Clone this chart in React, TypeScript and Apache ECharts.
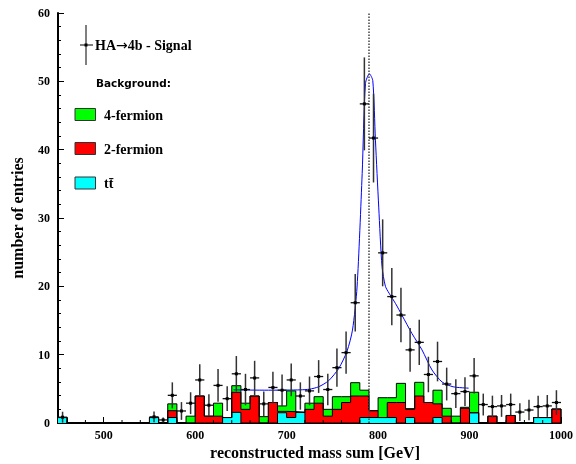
import React, { useEffect, useRef } from 'react';
import * as echarts from 'echarts';

// histogram bin edges (GeV)
const binEdges = [
  450, 460, 470, 480, 490, 500, 510, 520, 530, 540,
  550, 560, 570, 580, 590, 600, 610, 620, 630, 640,
  650, 660, 670, 680, 690, 700, 710, 720, 730, 740,
  750, 760, 770, 780, 790, 800, 810, 820, 830, 840,
  850, 860, 870, 880, 890, 900, 910, 920, 930, 940,
  950, 960, 970, 980, 990, 1000,
];

// background: t tbar
const ttbar = [
  0.8, 0, 0, 0, 0, 0, 0, 0, 0, 0,
  0.8, 0, 0.8, 0, 0, 0, 0, 0, 0.8, 1.56,
  0, 0, 0, 0, 1.5, 0.8, 1.56, 0, 0, 0,
  0, 0, 0, 0.8, 0.8, 0.8, 0.8, 0, 0.8, 0,
  0, 0.8, 0, 0, 0, 1.5, 0, 0, 0, 0,
  0, 0, 0.8, 0.8, 0,
];
// background: 2-fermion
const twoFermion = [
  0, 0, 0, 0, 0, 0, 0, 0, 0, 0,
  0, 0, 1.0, 0, 0, 3.95, 1.0, 1.0, 0, 2.94,
  2.0, 3.95, 0, 3.0, 0.2, 0.86, 0, 2.0, 2.9, 1.0,
  2.0, 3.0, 3.95, 3.15, 1.0, 0, 2.2, 3.0, 1.2, 3.95,
  3.0, 2.0, 1.0, 0, 2.15, 0, 0, 1.0, 0, 1.1,
  0, 0, 0, 0, 2.05,
];
// background: 4-fermion
const fourFermion = [
  0, 0, 0, 0, 0, 0, 0, 0, 0, 0,
  0, 0, 1.0, 0, 1.0, 0, 0, 1.9, 0, 0.96,
  0.9, 0, 0.93, 0, 0.8, 3.04, 0, 0.9, 0.95, 1.0,
  1.85, 0.85, 1.95, 0.85, 0, 2.9, 0.7, 2.8, 0.1, 2.0,
  0, 2.0, 1.15, 1.0, 0.15, 3.0, 0, 0, 0, 0,
  0, 0, 0, 0, 0,
];
// signal (HA -> 4b) entries per bin and their errors
const signal = [
  0.85, null, null, null, null, null, null, null, null, null,
  0.9, 0.45, 4.05, 1.76, 2.9, 6.3, 2.6, 5.5, 3.56, 7.2,
  4.9, 6.6, 2.8, 5.2, 4.8, 6.3, 3.95, 4.7, 6.8, 4.9,
  8.1, 10.3, 17.6, 46.7, 41.7, 24.9, 18.5, 15.8, 10.7, 11.8,
  7.1, 9.0, 5.7, 4.3, 4.6, 6.9, 2.7, 2.4, 2.5, 2.7,
  1.6, 1.9, 2.4, 2.5, 3.0,
];
const signalErr = [
  0.8, 0, 0, 0, 0, 0, 0, 0, 0, 0,
  0.8, 0.35, 1.9, 1.3, 1.6, 2.3, 1.6, 2.4, 1.8, 2.6,
  2.3, 2.5, 1.8, 2.3, 2.3, 2.4, 2.0, 2.1, 2.4, 2.3,
  2.8, 3.1, 4.2, 6.8, 6.5, 4.9, 4.2, 4.0, 3.2, 3.3,
  2.6, 2.9, 2.4, 2.1, 2.1, 2.6, 1.6, 1.6, 1.6, 1.6,
  1.3, 1.5, 1.6, 1.6, 1.8,
];

// fit curve
const fitMass = [
  642, 660, 680, 700, 715, 725, 735, 746, 757, 766, 772, 777, 782.6, 786.2,
  790.5, 794.2, 797.1, 800.7, 804.3, 808, 812, 819, 826, 837, 848, 859, 870, 882, 899,
];
const fitValue = [
  4.85, 4.82, 4.8, 4.82, 4.85, 4.95, 5.3, 6.2, 8.0, 10.5, 13.6, 19.9, 36.5, 49.7,
  51.1, 50.1, 41.4, 31.6, 22.9, 20.0, 19.0, 17.5, 15.8, 13.1, 10.7, 7.75, 6.0, 5.3, 5.1,
];

const peakMass = 790;
const xMinorTicks = [
  460, 480, 520, 540, 560, 580, 620, 640, 660, 680, 720, 740, 760, 780,
  820, 840, 860, 880, 920, 940, 960, 980,
];

const serif = 'Liberation Serif';

export default function App() {
  const ref = useRef<HTMLDivElement>(null);
  useEffect(() => {
    if (!ref.current) return;
    const chart = echarts.init(ref.current, null, { renderer: 'svg' });
    const nb = ttbar.length;
    const cumTT = ttbar.slice();
    const cumRed = ttbar.map((v, i) => v + twoFermion[i]);
    const cumAll = cumRed.map((v, i) => v + fourFermion[i]);
    const stepData = (vals: number[]) =>
      binEdges.map((e, i) => [e, i < nb ? vals[i] : 0]);

    const pts: number[][] = [];
    for (let i = 0; i < nb; i++) {
      if (signal[i] == null) continue;
      pts.push([(binEdges[i] + binEdges[i + 1]) / 2, signal[i] as number, signalErr[i], binEdges[i], binEdges[i + 1]]);
    }

    const histSeries = (name: string, vals: number[], color: string) => ({
      name,
      type: 'line',
      step: 'end',
      data: stepData(vals),
      showSymbol: false,
      symbol: 'none',
      lineStyle: { color: '#000', width: 1 },
      areaStyle: { color, opacity: 1 },
      z: 2,
    });

    chart.setOption({
      animation: false,
      grid: { left: 58, right: 13, top: 13, bottom: 41 },
      xAxis: {
        type: 'value',
        min: 450,
        max: 1000,
        splitNumber: 5,
        axisLine: { show: true, lineStyle: { color: '#000', width: 2 } },
        axisTick: { show: true, inside: true, length: 6, lineStyle: { color: '#000', width: 1 } },
        axisLabel: {
          showMinLabel: false,
          formatter: (v: number) => String(v),
          color: '#000',
          fontFamily: serif,
          fontWeight: 'bold',
          fontSize: 12,
          margin: 6,
        },
        splitLine: { show: false },
      },
      yAxis: {
        type: 'value',
        min: 0,
        max: 60,
        interval: 10,
        axisLine: { show: true, lineStyle: { color: '#000', width: 2 } },
        axisTick: { show: true, inside: true, length: 6, lineStyle: { color: '#000', width: 1 } },
        minorTick: { show: true, splitNumber: 5, length: 3, lineStyle: { color: '#000', width: 1 } },
        axisLabel: {
          color: '#000',
          fontFamily: serif,
          fontWeight: 'bold',
          fontSize: 12,
          margin: 8,
        },
        splitLine: { show: false },
      },
      series: [
        histSeries('4-fermion', cumAll, '#00ff00'),
        histSeries('2-fermion', cumRed, '#ff0000'),
        histSeries('ttbar', cumTT, '#00ffff'),
        {
          name: 'fit',
          type: 'line',
          data: fitMass.map((m, i) => [m, fitValue[i]]),
          smooth: 0.25,
          showSymbol: false,
          symbol: 'none',
          lineStyle: { color: '#0000ff', width: 1 },
          z: 4,
          markLine: {
            silent: true,
            symbol: 'none',
            label: { show: false },
            lineStyle: { color: '#444', type: 'dotted', width: 1.5 },
            data: [{ xAxis: peakMass }],
          },
        },
        {
          name: 'HA->4b - Signal',
          type: 'custom',
          data: pts,
          encode: { x: 0, y: 1 },
          z: 5,
          renderItem: (params: any, api: any) => {
            const x = api.value(0);
            const y = api.value(1);
            const e = api.value(2);
            const c = api.coord([x, y]);
            const top = api.coord([x, y + e]);
            const bot = api.coord([x, Math.max(0, y - e)]);
            const l = api.coord([api.value(3), y]);
            const r = api.coord([api.value(4), y]);
            return {
              type: 'group',
              children: [
                { type: 'line', shape: { x1: c[0], y1: top[1], x2: c[0], y2: bot[1] }, style: { stroke: '#333', lineWidth: 1.5 } },
                { type: 'line', shape: { x1: l[0], y1: c[1], x2: r[0], y2: c[1] }, style: { stroke: '#111', lineWidth: 1.3 } },
                { type: 'rect', shape: { x: c[0] - 1.5, y: c[1] - 1.5, width: 3, height: 3 }, style: { fill: '#000' } },
              ],
            };
          },
        },
        {
          name: 'minorTicks',
          type: 'custom',
          data: xMinorTicks.map((v) => [v, 0]),
          encode: { x: 0, y: 1 },
          z: 6,
          silent: true,
          renderItem: (params: any, api: any) => {
            const p = api.coord([api.value(0), 0]);
            return { type: 'line', shape: { x1: p[0], y1: p[1], x2: p[0], y2: p[1] - 3 }, style: { stroke: '#000', lineWidth: 1 } };
          },
        },
      ],
      graphic: [
        { type: 'line', shape: { x1: 86, y1: 25, x2: 86, y2: 65 }, style: { stroke: '#000', lineWidth: 1 } },
        { type: 'line', shape: { x1: 80, y1: 45, x2: 93, y2: 45 }, style: { stroke: '#000', lineWidth: 1 } },
        { type: 'rect', shape: { x: 84.5, y: 43.5, width: 3, height: 3 }, style: { fill: '#000' } },
        {
          type: 'text', x: 95, y: 45,
          style: {
            text: '{a|HA}{b|→}{a|4b - Signal}',
            rich: {
              a: { font: `bold 14px "${serif}"`, fill: '#000' },
              b: { font: '14px "DejaVu Sans"', fill: '#000' },
            },
            verticalAlign: 'middle',
          },
        },
        { type: 'text', x: 96, y: 83, style: { text: 'Background:', font: 'bold 10.5px "DejaVu Sans"', fill: '#000', verticalAlign: 'middle' } },
        { type: 'rect', shape: { x: 75, y: 108.5, width: 20.5, height: 12 }, style: { fill: '#00ff00', stroke: '#333', lineWidth: 1 } },
        { type: 'text', x: 104, y: 115, style: { text: '4-fermion', font: `bold 14px "${serif}"`, fill: '#000', verticalAlign: 'middle' } },
        { type: 'rect', shape: { x: 75, y: 142.5, width: 20.5, height: 12 }, style: { fill: '#ff0000', stroke: '#333', lineWidth: 1 } },
        { type: 'text', x: 104, y: 149, style: { text: '2-fermion', font: `bold 14px "${serif}"`, fill: '#000', verticalAlign: 'middle' } },
        { type: 'rect', shape: { x: 75, y: 177, width: 20.5, height: 12 }, style: { fill: '#00ffff', stroke: '#333', lineWidth: 1 } },
        { type: 'text', x: 104, y: 183, style: { text: 'tt\u0304', font: `bold 14px "${serif}"`, fill: '#000', verticalAlign: 'middle' } },
        { type: 'text', x: 315, y: 452, style: { text: 'reconstructed mass sum [GeV]', font: `bold 16px "${serif}"`, fill: '#000', align: 'center', verticalAlign: 'middle' } },
        { type: 'text', x: 17, y: 218, rotation: Math.PI / 2, style: { text: 'number of entries', font: `bold 16px "${serif}"`, fill: '#000', align: 'center', verticalAlign: 'middle' } },
      ],
    });
    return () => chart.dispose();
  }, []);
  return <div ref={ref} style={{ position: 'fixed', left: 0, top: 0, width: 576, height: 464 }} />;
}
